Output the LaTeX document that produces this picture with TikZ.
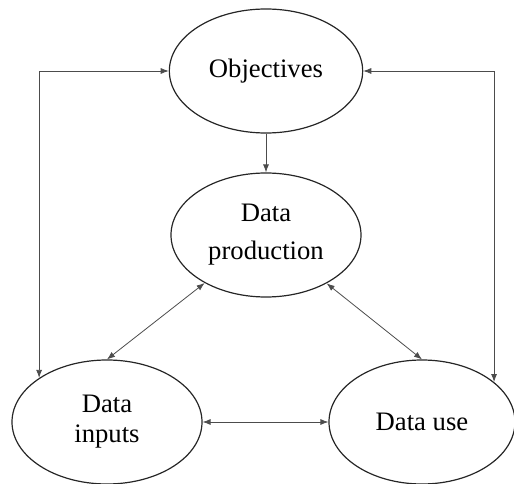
\documentclass[tikz,border=0pt]{standalone}
\usepackage{fontspec}
\setmainfont{Liberation Serif}
\usetikzlibrary{shapes.geometric,arrows.meta}
\tikzset{
  arr/.tip={Latex[length=6pt,width=4.5pt]},
  goal/.style={ellipse,draw=black!85,line width=0.9pt,minimum width=142.5pt,minimum height=93pt,
    inner sep=0pt,align=center,font=\fontsize{20}{28.5}\selectfont},
  link/.style={draw=black!70,line width=0.6pt},
}
\begin{document}
\begin{tikzpicture}[x=0.75pt,y=-0.75pt]
\useasboundingbox (0,0) rectangle (514,484);
\node[goal,minimum width=145pt] (obj) at (266,71) {Objectives};
\node[goal] (prod) at (266,235) {Data\\production};
\node[goal,font=\fontsize{20}{22.5}\selectfont] (inp) at (107,422) {Data\\inputs};
\node[goal,minimum width=139.5pt] (use) at (422,422) {Data use};

\draw[link,-arr] (obj) -- (prod);
\draw[link,arr-arr] (prod) -- (inp.north);
\draw[link,arr-arr] (prod) -- (use.north);
\draw[link,arr-arr] (inp) -- (use);
\draw[link,arr-arr] (obj.west) -| (inp.147);
\draw[link,arr-arr] (obj.east) -| (use.29);
\end{tikzpicture}
\end{document}
